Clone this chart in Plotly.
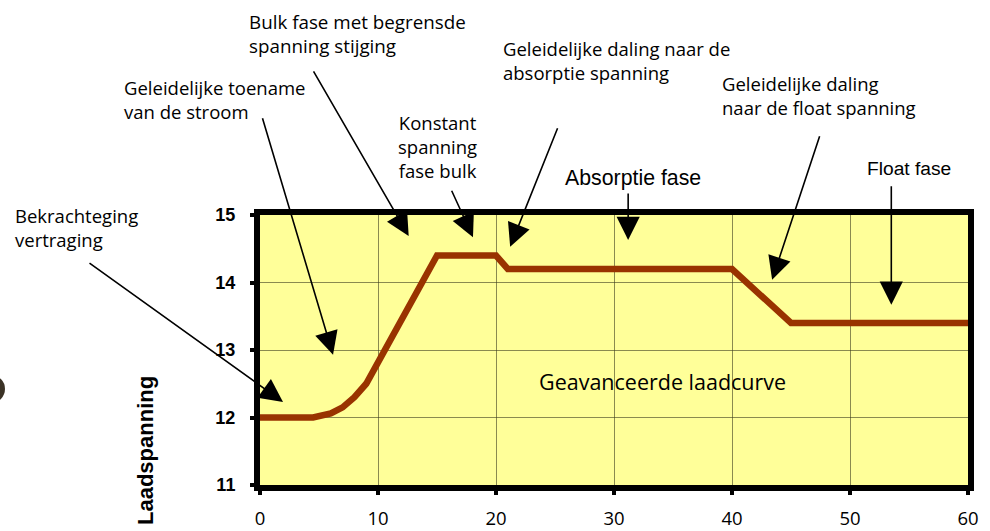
import plotly.graph_objects as go

# ---- data ----
tijd = [0, 4.5, 6, 7, 8, 9, 15, 20, 21, 40, 45, 60]
spanning = [12.0, 12.0, 12.06, 12.15, 12.3, 12.5, 14.4, 14.4, 14.2, 14.2, 13.4, 13.4]
x_ticks = [0, 10, 20, 30, 40, 50, 60]
y_ticks = [11, 12, 13, 14, 15]

W, H = 990, 531
L, R, T, B = 260, 968, 215, 485  # plot area in pixels


def px(xp):
    return (xp - L) / (R - L)


def py(yp):
    return (B - yp) / (B - T)


MYRIAD = "Open Sans, Noto Sans, sans-serif"
HELV = "Liberation Sans, Arial, sans-serif"

fig = go.Figure()
fig.add_trace(go.Scatter(x=tijd, y=spanning, mode="lines",
                         line=dict(color="#993300", width=6.5),
                         hoverinfo="skip", showlegend=False))

ann = []
# arrows: (head x data, head y data, tail dx px, tail dy px)
arrows = [
    (1.95, 12.23, -195, -140),
    (6.19, 12.93, -71, -238),
    (12.6, 14.69, -96, -166),
    (18.05, 14.67, -22, -48),
    (21.2, 14.53, 48, -120),
    (31.2, 14.63, 0, -48),
    (43.4, 14.04, 48, -145),
    (53.5, 13.67, 0, -120),
]
for hx, hy, dx, dy in arrows:
    ann.append(dict(x=hx, y=hy, xref="x", yref="y", ax=dx, ay=dy, text="",
                    showarrow=True, arrowhead=2, arrowsize=2.9, arrowwidth=1.6,
                    arrowcolor="black", standoff=0))

labels = [
    ("Bekrachteging<br>vertraging", 13, 227.5, "left", MYRIAD, 18.5),
    ("Geleidelijke toename<br>van de stroom", 122, 99.5, "left", MYRIAD, 18.5),
    ("Bulk fase met begrensde<br>spanning stijging", 247, 34, "left", MYRIAD, 18.8),
    ("Konstant<br>spanning<br>fase bulk", 437, 146, "center", MYRIAD, 18.5),
    ("Geleidelijke daling naar de<br>absorptie spanning", 501, 60.5, "left", MYRIAD, 18.5),
    ("Geleidelijke daling<br>naar de float spanning", 720, 95, "left", MYRIAD, 18.5),
    ("Absorptie fase", 563, 178, "left", HELV, 21.3),
    ("Float fase", 865, 168, "left", HELV, 19.2),
]
for txt, xl, yc, al, fam, fs in labels:
    ann.append(dict(x=px(xl), y=py(yc), xref="paper", yref="paper",
                    text=txt, showarrow=False, xanchor=al, yanchor="middle", align=al,
                    font=dict(family=fam, size=fs, color="black")))

ann.append(dict(x=px(662), y=py(381), xref="paper", yref="paper",
                text="Geavanceerde laadcurve", showarrow=False,
                xanchor="center", yanchor="middle",
                font=dict(family=MYRIAD, size=21.5, color="black")))
ann.append(dict(x=px(145), y=py(451), xref="paper", yref="paper",
                text="<b>Laadspanning</b>", showarrow=False, textangle=-90,
                xanchor="center", yanchor="middle",
                font=dict(family=HELV, size=22, color="black")))

fig.update_layout(
    width=W, height=H,
    margin=dict(l=L, r=W - R, t=T, b=H - B, autoexpand=False),
    paper_bgcolor="white",
    plot_bgcolor="#FFFF99",
    annotations=ann,
    shapes=[dict(type="circle", xref="paper", yref="paper", xsizemode="pixel",
                 ysizemode="pixel", xanchor=0, yanchor=py(389),
                 x0=-L - 23, x1=-L + 5, y0=-14, y1=14,
                 fillcolor="#3b3226", line=dict(width=0))],
    showlegend=False,
)
fig.update_xaxes(range=[0, 60], tickvals=x_ticks, ticktext=[str(v) for v in x_ticks],
                 showgrid=True, gridcolor="rgba(60,60,30,0.6)", gridwidth=1,
                 showline=True, linecolor="black", linewidth=6, mirror=True,
                 ticks="outside", ticklen=4, tickwidth=4, tickcolor="black",
                 ticklabelstandoff=8, automargin=False,
                 tickfont=dict(family=MYRIAD, size=18.5, color="black"),
                 zeroline=False)
fig.update_yaxes(range=[11, 15], tickvals=y_ticks,
                 ticktext=["<b>%d</b>" % v for v in y_ticks],
                 showgrid=True, gridcolor="rgba(60,60,30,0.6)", gridwidth=1,
                 showline=True, linecolor="black", linewidth=6, mirror=True,
                 ticks="outside", ticklen=4, tickwidth=4, tickcolor="black",
                 ticklabelstandoff=11, automargin=False,
                 tickfont=dict(family=HELV, size=18, color="black"),
                 zeroline=False)

fig.write_html("out.html", config={"displayModeBar": False},
               post_script="document.body.style.margin='0px';document.body.style.overflow='hidden';")
